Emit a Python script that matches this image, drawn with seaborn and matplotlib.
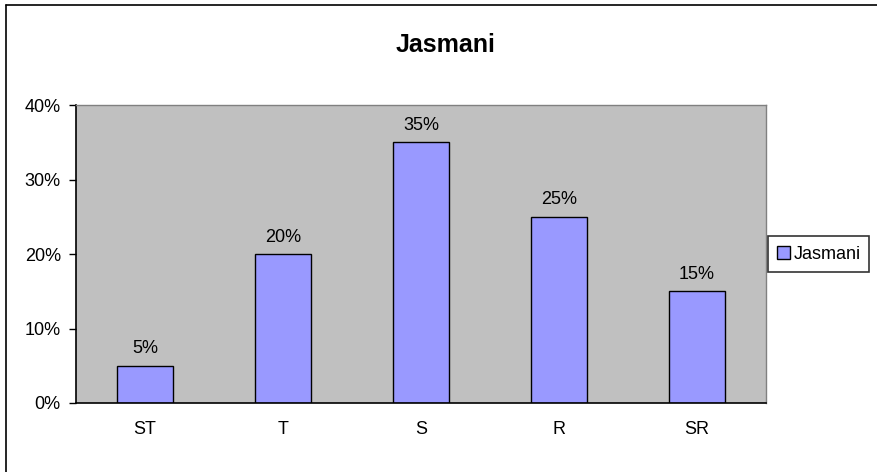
import matplotlib
matplotlib.use("Agg")
import matplotlib.pyplot as plt
import pandas as pd
import seaborn as sns
from matplotlib.lines import Line2D
from matplotlib.ticker import PercentFormatter

# Chart data
categories = ["ST", "T", "S", "R", "SR"]
values = [5, 20, 35, 25, 15]
series_name = "Jasmani"
y_ticks = [0, 10, 20, 30, 40]

df = pd.DataFrame({"category": categories, "value": values})

sns.set_style("white")
plt.rcParams["font.family"] = ["Liberation Sans", "DejaVu Sans"]
plt.rcParams["text.color"] = "black"
plt.rcParams["xtick.color"] = "black"
plt.rcParams["ytick.color"] = "black"

fig = plt.figure(figsize=(8.78, 4.72), dpi=100)
ax = fig.add_axes([0.0866, 0.1462, 0.7858, 0.6313])

sns.barplot(
    data=df, x="category", y="value",
    color="#9999FF", saturation=1, edgecolor="black", linewidth=1,
    width=0.4, label=series_name, ax=ax,
)

ax.set_facecolor("#C0C0C0")
ax.set_xlim(-0.5, len(categories) - 0.5)
ax.set_ylim(0, 40)
ax.set_yticks(y_ticks)
ax.yaxis.set_major_formatter(PercentFormatter(100, decimals=0))
ax.set_xlabel("")
ax.set_ylabel("")

# value labels above the bars
for i, v in enumerate(values):
    ax.annotate(f"{v}%", (i, v), xytext=(0, 6), textcoords="offset points",
                ha="center", va="bottom", fontsize=13)

# category boundary ticks like Excel
ax.set_xticks([i - 0.5 for i in range(len(categories) + 1)], minor=True)
ax.tick_params(axis="x", which="major", length=0, labelsize=13, pad=13)
ax.tick_params(axis="x", which="minor", length=5, width=1, color="black", direction="out")
ax.tick_params(axis="y", which="major", length=5, width=1, color="black",
               direction="out", labelsize=13, left=True, pad=6)

for side in ["left", "bottom"]:
    ax.spines[side].set_color("black")
    ax.spines[side].set_linewidth(1.2)
for side in ["top", "right"]:
    ax.spines[side].set_color("#808080")
    ax.spines[side].set_linewidth(1.0)

leg = ax.legend(loc="center left", bbox_to_anchor=(1.003, 0.5), borderaxespad=0,
                frameon=True, fancybox=False, handlelength=0.7, handleheight=0.7,
                handletextpad=0.2, borderpad=0.5, fontsize=13)
leg.get_frame().set_edgecolor("black")
leg.get_frame().set_linewidth(1.2)
for h in leg.legend_handles:
    h.set_edgecolor("black")

fig.text(0.507, 0.905, "Jasmani", ha="center", va="center",
         fontsize=18, fontweight="bold")

# outer chart frame
fig.add_artist(Line2D([0.0068, 0.0068], [0.0, 0.989], transform=fig.transFigure,
                      color="black", linewidth=1.2))
fig.add_artist(Line2D([0.0068, 1.0], [0.989, 0.989], transform=fig.transFigure,
                      color="black", linewidth=1.2))

fig.savefig("out.png", dpi=100, facecolor="white")
